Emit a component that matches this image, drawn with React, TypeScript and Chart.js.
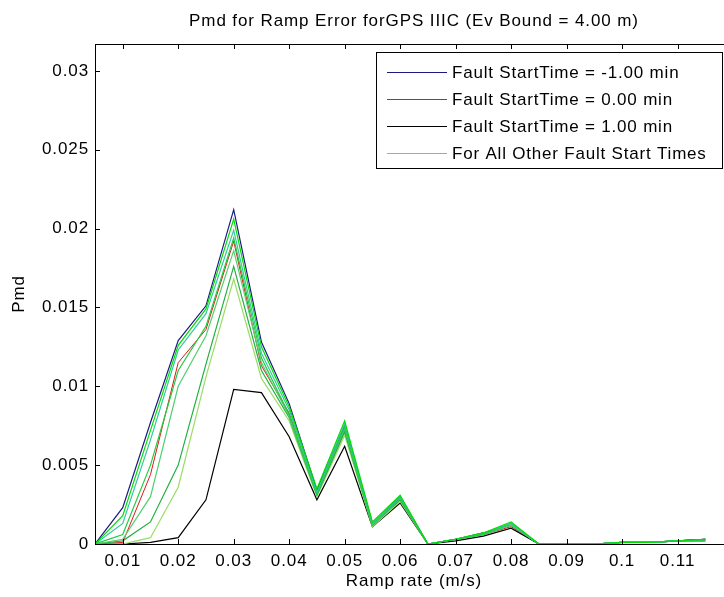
import React, { useEffect, useRef } from 'react';
import { Chart, registerables } from 'chart.js';

Chart.register(...registerables);

const TITLE = 'Pmd for Ramp Error forGPS IIIC (Ev Bound = 4.00 m)';
const X_LABEL = 'Ramp rate (m/s)';
const Y_LABEL = 'Pmd';

const RAMP_RATES = [0.005, 0.01, 0.015, 0.02, 0.025, 0.03, 0.035, 0.04, 0.045, 0.05, 0.055, 0.06,
  0.065, 0.07, 0.075, 0.08, 0.085, 0.09, 0.095, 0.1, 0.105, 0.11, 0.115];

const X_TICKS = [0.01, 0.02, 0.03, 0.04, 0.05, 0.06, 0.07, 0.08, 0.09, 0.1, 0.11];
const X_TICK_LABELS = ['0.01', '0.02', '0.03', '0.04', '0.05', '0.06', '0.07', '0.08', '0.09', '0.1', '0.11'];
const Y_TICKS = [0, 0.005, 0.01, 0.015, 0.02, 0.025, 0.03];
const Y_TICK_LABELS = ['0', '0.005', '0.01', '0.015', '0.02', '0.025', '0.03'];
const X_MIN = 0.005;
const X_MAX = 0.12;
const Y_MIN = 0;
const Y_MAX = 0.0317;

const PMD_START_MINUS1 = [0, 0.0023, 0.0077, 0.0129, 0.0151, 0.0212, 0.0128, 0.0089, 0.0034, 0.0075, 0.0013, 0.0030,
  0, 0.0003, 0.0007, 0.0012, 0, 0, 0, 0.0001, 0.0001, 0.0002, 0.0003];
const PMD_START_ZERO = [0, 0.0001, 0.0044, 0.0115, 0.0136, 0.0192, 0.0113, 0.0083, 0.0031, 0.0072, 0.0012, 0.0028,
  0, 0.0003, 0.0006, 0.0011, 0, 0, 0, 0.0001, 0.0001, 0.0002, 0.0003];
const PMD_START_PLUS1 = [0, 0, 0.0001, 0.0004, 0.0028, 0.0098, 0.0096, 0.0068, 0.0028, 0.0062, 0.0011, 0.0026,
  0, 0.0002, 0.0005, 0.0010, 0, 0, 0, 0.0001, 0.0001, 0.0002, 0.0003];
const PMD_OTHER_A = [0, 0.0018, 0.0072, 0.0126, 0.0149, 0.0206, 0.0125, 0.0087, 0.0035, 0.0078, 0.0014, 0.0031,
  0, 0.0003, 0.0007, 0.0014, 0, 0, 0, 0.0001, 0.0001, 0.0002, 0.0003];
const PMD_OTHER_B = [0, 0.0013, 0.0066, 0.0123, 0.0146, 0.0199, 0.0121, 0.0085, 0.0033, 0.0076, 0.0013, 0.0030,
  0, 0.0003, 0.0007, 0.0013, 0, 0, 0, 0.0001, 0.0001, 0.0002, 0.0003];
const PMD_OTHER_C = [0, 0.0006, 0.0050, 0.0110, 0.0138, 0.0194, 0.0118, 0.0082, 0.0032, 0.0074, 0.0012, 0.0029,
  0, 0.0003, 0.0006, 0.0013, 0, 0, 0, 0.0001, 0.0001, 0.0002, 0.0002];
const PMD_OTHER_D = [0, 0.0003, 0.0030, 0.0100, 0.0132, 0.0186, 0.0115, 0.0081, 0.0032, 0.0073, 0.0012, 0.0029,
  0, 0.0003, 0.0006, 0.0012, 0, 0, 0, 0.0001, 0.0001, 0.0002, 0.0002];
const PMD_OTHER_E = [0, 0.0002, 0.0014, 0.0050, 0.0114, 0.0176, 0.0110, 0.0080, 0.0031, 0.0071, 0.0012, 0.0028,
  0, 0.0003, 0.0006, 0.0012, 0, 0, 0, 0.0001, 0.0001, 0.0002, 0.0002];
const PMD_OTHER_F = [0, 0, 0.0004, 0.0036, 0.0106, 0.0168, 0.0105, 0.0078, 0.0030, 0.0069, 0.0011, 0.0027,
  0, 0.0003, 0.0006, 0.0012, 0, 0, 0, 0.0001, 0.0001, 0.0002, 0.0002];

const OTHER_SERIES = [PMD_OTHER_A, PMD_OTHER_B, PMD_OTHER_C, PMD_OTHER_D, PMD_OTHER_E, PMD_OTHER_F];
const OTHER_COLORS = ['#00dd00', '#30c8a0', '#22cc44', '#50d070', '#20b040', '#99dd66'];

const LEGEND_LABELS = [
  'Fault StartTime = -1.00 min',
  'Fault StartTime = 0.00 min',
  'Fault StartTime = 1.00 min',
  'For All Other Fault Start Times',
];
const LEGEND_COLORS = ['#1a1a80', '#e01818', '#000000', '#8fbf5f'];

const FONT = "'Liberation Sans', Arial, sans-serif";
const CANVAS_W = 900;
const CANVAS_H = 597;

const toPoints = (ys: number[]) => RAMP_RATES.map((x, i) => ({ x, y: ys[i] }));

const frame = {
  id: 'matlabFrame',
  beforeDraw(chart: any) {
    const ctx = chart.ctx;
    ctx.save();
    ctx.fillStyle = '#ffffff';
    ctx.fillRect(0, 0, chart.width, chart.height);
    ctx.restore();
    ctx.letterSpacing = '0.9px';
  },
  afterDraw(chart: any) {
    const ctx = chart.ctx;
    const { left, right, top, bottom } = chart.chartArea;
    const xs = chart.scales.x;
    const ys = chart.scales.y;
    ctx.save();
    ctx.strokeStyle = '#000';
    ctx.lineWidth = 1;
    ctx.beginPath();
    X_TICKS.forEach((v) => {
      const px = Math.round(xs.getPixelForValue(v)) + 0.5;
      ctx.moveTo(px, bottom);
      ctx.lineTo(px, bottom - 5);
      ctx.moveTo(px, top);
      ctx.lineTo(px, top + 5);
    });
    Y_TICKS.forEach((v) => {
      const py = Math.round(ys.getPixelForValue(v)) + 0.5;
      ctx.moveTo(left, py);
      ctx.lineTo(left + 5, py);
      ctx.moveTo(right, py);
      ctx.lineTo(right - 5, py);
    });
    ctx.stroke();
    ctx.strokeRect(Math.round(left) + 0.5, Math.round(top) + 0.5, Math.round(right - left), Math.round(bottom - top));

    // legend box
    const lx = 376.5, ly = 52.5, lw = 346, lh = 116;
    ctx.fillStyle = '#ffffff';
    ctx.fillRect(lx, ly, lw, lh);
    ctx.strokeStyle = '#000';
    ctx.strokeRect(lx, ly, lw, lh);
    ctx.font = `17px ${FONT}`;
    ctx.letterSpacing = '0.8px';
    ctx.textBaseline = 'middle';
    ctx.textAlign = 'left';
    LEGEND_LABELS.forEach((label, i) => {
      const y = 72 + i * 27;
      ctx.strokeStyle = LEGEND_COLORS[i];
      ctx.lineWidth = 1;
      ctx.beginPath();
      ctx.moveTo(387, y + 0.5);
      ctx.lineTo(447, y + 0.5);
      ctx.stroke();
      ctx.fillStyle = '#000';
      ctx.fillText(label, 452, y + 1);
    });
    ctx.restore();
  },
};

export default function App() {
  const ref = useRef<HTMLCanvasElement>(null);

  useEffect(() => {
    const canvas = ref.current;
    if (!canvas) return;
    const datasets: any[] = [];
    OTHER_SERIES.forEach((s, i) => {
      datasets.push({
        label: 'other' + i,
        data: toPoints(s),
        borderColor: OTHER_COLORS[i],
        borderWidth: 1.2,
        pointRadius: 0,
        tension: 0,
        fill: false,
      });
    });
    datasets.push({ label: LEGEND_LABELS[2], data: toPoints(PMD_START_PLUS1), borderColor: LEGEND_COLORS[2], borderWidth: 1.2, pointRadius: 0, fill: false });
    datasets.push({ label: LEGEND_LABELS[1], data: toPoints(PMD_START_ZERO), borderColor: LEGEND_COLORS[1], borderWidth: 1, pointRadius: 0, fill: false });
    datasets.push({ label: LEGEND_LABELS[0], data: toPoints(PMD_START_MINUS1), borderColor: LEGEND_COLORS[0], borderWidth: 1.2, pointRadius: 0, fill: false });

    const chart = new Chart(canvas, {
      type: 'line',
      data: { datasets },
      options: {
        animation: false,
        responsive: false,
        devicePixelRatio: 1,
        layout: { padding: { left: 0, top: 0, right: CANVAS_W - 733, bottom: 0 } },
        plugins: {
          legend: { display: false },
          tooltip: { enabled: false },
          title: {
            display: true,
            text: TITLE,
            fullSize: false,
            color: '#000',
            font: { family: FONT, size: 17, weight: 'normal', lineHeight: 1 },
            padding: { top: 13, bottom: 14 },
          },
        },
        scales: {
          x: {
            type: 'linear',
            min: X_MIN,
            max: X_MAX,
            afterBuildTicks: (scale: any) => {
              scale.ticks = X_TICKS.map((value) => ({ value }));
            },
            afterFit: (scale: any) => {
              scale.height = 53;
            },
            ticks: {
              autoSkip: false,
              maxRotation: 0,
              color: '#000',
              padding: 7,
              font: { family: FONT, size: 17 },
              callback: (_v: any, i: number) => X_TICK_LABELS[i],
            },
            grid: { display: false, drawTicks: false },
            border: { display: false },
            title: {
              display: true,
              text: X_LABEL,
              color: '#000',
              font: { family: FONT, size: 17 },
              padding: { top: 0, bottom: 5 },
            },
          },
          y: {
            type: 'linear',
            min: Y_MIN,
            max: Y_MAX,
            afterBuildTicks: (scale: any) => {
              scale.ticks = Y_TICKS.map((value) => ({ value }));
            },
            afterFit: (scale: any) => {
              scale.width = 95;
            },
            ticks: {
              autoSkip: false,
              color: '#000',
              padding: 6,
              font: { family: FONT, size: 17 },
              callback: (_v: any, i: number) => Y_TICK_LABELS[i],
            },
            grid: { display: false, drawTicks: false },
            border: { display: false },
            title: {
              display: true,
              text: Y_LABEL,
              color: '#000',
              font: { family: FONT, size: 17 },
              padding: { top: 9, bottom: 0 },
            },
          },
        },
      } as any,
      plugins: [frame],
    });
    return () => chart.destroy();
  }, []);

  return (
    <div style={{ position: 'fixed', left: 0, top: 0, width: 724, height: 597, overflow: 'hidden', background: '#fff' }}>
      <canvas ref={ref} width={CANVAS_W} height={CANVAS_H} style={{ display: 'block', width: CANVAS_W, height: CANVAS_H }} />
    </div>
  );
}
